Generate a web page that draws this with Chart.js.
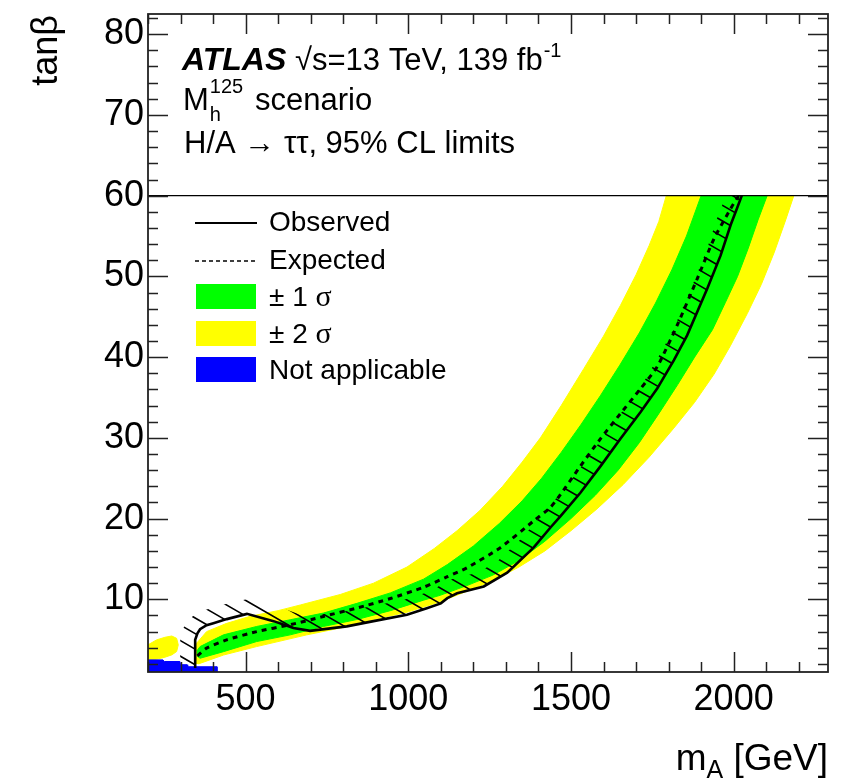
<!DOCTYPE html>
<html><head><meta charset="utf-8">
<script src="https://cdn.jsdelivr.net/npm/chart.js@4.4.0/dist/chart.umd.min.js"></script>
<style>html,body{margin:0;padding:0;background:#fff;}canvas{display:block;}</style>
</head><body>
<canvas id="c" width="852" height="782"></canvas>
<script>
// ---- data (m_A [GeV], tan beta) ----
const xTickValues = [500, 1000, 1500, 2000];
const yTickValues = [10, 20, 30, 40, 50, 60, 70, 80];

const observedLimit = [
  [345,1.5],[345,5.0],[352,5.8],[360,6.3],[380,6.8],[401,7.05],[442,7.55],[504,8.2],
  [586,7.3],[647,6.45],[698,6.1],[811,6.65],[893,7.3],[996,8.1],[1057,8.9],[1100,9.5],
  [1120,10.15],[1150,10.75],[1232,11.6],[1304,13.3],[1385,16.4],[1437,18.9],[1468,20.3],
  [1529,23.2],[1591,26.5],[1652,29.9],[1714,33.2],[1765,36.1],[1816,39.6],[1857,42.7],
  [1919,48.5],[1960,52.6],[1991,56.4],[2011,58.5],[2025,60]
];
const expectedLimit = [
  [352,3.0],[380,3.95],[442,4.98],[534,6.0],[637,6.85],[739,7.88],[842,8.92],[945,10.1],
  [1047,11.5],[1120,12.8],[1180,13.9],[1283,16.4],[1385,19.7],[1437,21.4],[1468,23.0],
  [1529,26.5],[1591,29.9],[1652,33.0],[1714,36.1],[1765,38.8],[1827,44.0],[1888,49.7],
  [1940,54.7],[1991,58.4],[2015,60]
];
// +-1 sigma band: left/upper edge (low -> high), right/lower edge (high -> low)
const band1SigmaUpper = [
  [350,3.6],[360,4.15],[432,5.6],[534,6.64],[637,7.47],[739,8.3],[842,9.5],[945,10.8],
  [1047,12.5],[1120,14.3],[1200,16.6],[1280,19.4],[1350,22.2],[1410,25.0],[1470,28.2],
  [1530,31.6],[1590,35.2],[1650,39.0],[1710,43.0],[1760,46.7],[1810,50.8],[1855,55.0],[1900,60]
];
const band1SigmaLower = [
  [2103,60],[2075,57],[2045,53.5],[2012,50],[1975,46.8],[1935,43.4],[1880,40.0],[1828,36.6],
  [1770,33.0],[1710,29.4],[1645,26.0],[1575,22.9],[1500,20.0],[1420,17.2],[1340,14.8],
  [1260,13.0],[1180,11.7],[1098,10.5],[1047,9.9],[945,8.6],[842,7.5],[739,6.64],[637,5.6],
  [534,4.77],[432,3.52],[360,2.7],[350,3.0]
];
// +-2 sigma band
const band2SigmaUpper = [
  [345,2.0],[348,4.5],[380,6.0],[440,7.0],[514,7.9],[600,8.6],[668,9.3],[791,10.6],
  [893,12.0],[996,14.0],[1080,16.3],[1150,18.5],[1220,21.0],[1290,24.0],[1350,27.0],
  [1406,30.0],[1470,34.0],[1540,38.6],[1600,42.6],[1652,46.4],[1700,50.2],[1740,53.8],
  [1770,56.8],[1793,60]
];
const band2SigmaLower = [
  [2185,60],[2160,57],[2125,53],[2085,49],[2042,45.4],[1990,41.4],[1940,37.9],[1880,34.4],
  [1816,31.2],[1740,27.6],[1660,24.2],[1580,21.2],[1500,18.5],[1420,16.0],[1340,14.0],
  [1260,12.3],[1180,11.0],[1098,9.7],[996,8.4],[893,7.5],[791,6.45],[688,5.6],
  [534,4.15],[432,3.1],[355,2.0]
];
const band2SigmaIsland = [
  [200,2.5],[200,4.36],[226,4.97],[252,5.3],[273,5.46],[288,5.17],[293,4.36],
  [288,3.53],[273,3.12],[252,2.83],[226,2.58],[200,2.5]
];
const notApplicableRegion = [
  [200,1],[200,2.5],[246,2.5],[250,2.3],[298,2.3],[300,1.9],[320,1.9],[322,1.65],
  [412,1.65],[412,1],[200,1]
];
const legendLabels = ['Observed', 'Expected', '\u00b1 1 \u03c3', '\u00b1 2 \u03c3', 'Not applicable'];

// ---- helpers ----
const toXY = arr => arr.map(p => ({x: p[0], y: p[1]}));
const FONT = "'Liberation Sans', Arial, Helvetica, sans-serif";
const SERIF = "'Liberation Serif', 'Times New Roman', serif";
Chart.defaults.font.family = FONT;
Chart.defaults.color = '#000';

const YELLOW = '#ffff00', GREEN = '#00ff00', BLUE = '#0000ff';

function polyDS(points, color, order) {
  return {data: toXY(points), showLine: true, fill: 'shape', backgroundColor: color,
    borderColor: color, borderWidth: 1, pointRadius: 0, tension: 0, order: order};
}

const decor = {
  id: 'decor',
  afterDatasetsDraw(chart) {
    // hatching on excluded side of the observed limit
    const {ctx, chartArea: ca, scales: {x, y}} = chart;
    const meta = chart.getDatasetMeta(5);
    const pts = meta.data.map(p => ({x: p.x, y: p.y}));
    const W = 15;
    const off = pts.map((p, i) => {
      const a = pts[Math.max(0, i - 1)], b = pts[Math.min(pts.length - 1, i + 1)];
      let dx = b.x - a.x, dy = b.y - a.y; const L = Math.hypot(dx, dy) || 1; dx /= L; dy /= L;
      return {x: p.x + W * dy, y: p.y - W * dx};
    });
    const y60 = y.getPixelForValue(60);
    ctx.save();
    ctx.beginPath();
    ctx.rect(ca.left, y60, ca.right - ca.left, ca.bottom - y60);
    ctx.clip();
    ctx.beginPath();
    ctx.moveTo(pts[0].x, pts[0].y);
    pts.forEach(p => ctx.lineTo(p.x, p.y));
    for (let i = off.length - 1; i >= 0; i--) ctx.lineTo(off[i].x, off[i].y);
    ctx.closePath();
    ctx.clip();
    const ang = 30 * Math.PI / 180, d = 13.5;
    const ux = Math.cos(ang), uy = Math.sin(ang), nx = -Math.sin(ang), ny = Math.cos(ang);
    ctx.strokeStyle = '#000'; ctx.lineWidth = 1.6;
    ctx.beginPath();
    for (let k = -120; k <= 120; k++) {
      const ox = ca.left + k * d * nx, oy = ca.top + k * d * ny;
      ctx.moveTo(ox - 2000 * ux, oy - 2000 * uy);
      ctx.lineTo(ox + 2000 * ux, oy + 2000 * uy);
    }
    ctx.stroke();
    ctx.restore();
  },
  afterDraw(chart) {
    const {ctx, chartArea: ca, scales: {x, y}} = chart;
    ctx.save();
    // line at tan beta = 60
    const y60 = y.getPixelForValue(60);
    ctx.strokeStyle = '#000'; ctx.lineWidth = 1.3;
    ctx.beginPath(); ctx.moveTo(ca.left, y60); ctx.lineTo(ca.right, y60); ctx.stroke();
    // ticks
    ctx.strokeStyle = '#222'; ctx.lineWidth = 1.5;
    ctx.beginPath();
    for (let v = 200; v <= 2290; v += 100) {
      const px = Math.round(x.getPixelForValue(v)) + 0.5;
      const len = xTickValues.includes(v) ? 20 : 10;
      ctx.moveTo(px, ca.bottom); ctx.lineTo(px, ca.bottom - len);
      ctx.moveTo(px, ca.top); ctx.lineTo(px, ca.top + len);
    }
    for (let v = 2; v <= 82; v += 2) {
      const py = Math.round(y.getPixelForValue(v)) + 0.5;
      const len = yTickValues.includes(v) ? 20 : 10;
      ctx.moveTo(ca.left, py); ctx.lineTo(ca.left + len, py);
      ctx.moveTo(ca.right, py); ctx.lineTo(ca.right - len, py);
    }
    ctx.stroke();
    // frame
    ctx.lineWidth = 1.8; ctx.strokeStyle = '#222';
    ctx.strokeRect(ca.left, ca.top, ca.right - ca.left, ca.bottom - ca.top);

    // header text
    ctx.fillStyle = '#000'; ctx.textBaseline = 'alphabetic'; ctx.textAlign = 'left';
    ctx.font = 'italic bold 32px ' + FONT;
    ctx.fillText('ATLAS', 182, 70);
    ctx.font = '31px ' + FONT;
    ctx.fillText('\u221as=13 TeV, 139 fb', 295, 70);
    let w = ctx.measureText('\u221as=13 TeV, 139 fb').width;
    ctx.font = '20px ' + FONT;
    ctx.fillText('-1', 295 + w + 1, 57);
    ctx.font = '31px ' + FONT;
    ctx.fillText('M', 183, 110);
    const wm = ctx.measureText('M').width;
    ctx.font = '20px ' + FONT;
    ctx.fillText('125', 183 + wm + 1, 93);
    ctx.fillText('h', 183 + wm + 1, 121);
    ctx.font = '31px ' + FONT;
    ctx.fillText('scenario', 255, 110);
    ctx.fillText('H/A \u2192 \u03c4\u03c4, 95% CL limits', 184, 153);

    // legend
    const rows = [221, 259, 296, 333, 369];
    legendLabels.forEach((t, i) => {
      const k = t.indexOf('\u03c3');
      ctx.font = '28px ' + FONT;
      if (k < 0) { ctx.fillText(t, 269, rows[i] + 10); return; }
      const pre = t.slice(0, k);
      ctx.fillText(pre, 269, rows[i] + 10);
      const wp = ctx.measureText(pre).width;
      ctx.font = '30px ' + SERIF;
      ctx.fillText('\u03c3', 269 + wp, rows[i] + 10);
    });
    ctx.strokeStyle = '#000';
    ctx.lineWidth = 2;
    ctx.beginPath(); ctx.moveTo(195, rows[0] + 2); ctx.lineTo(257, rows[0] + 2); ctx.stroke();
    ctx.lineWidth = 1.6; ctx.setLineDash([4, 3]);
    ctx.beginPath(); ctx.moveTo(195, rows[1] + 2); ctx.lineTo(257, rows[1] + 2); ctx.stroke();
    ctx.setLineDash([]);
    [[GREEN, rows[2]], [YELLOW, rows[3]], [BLUE, rows[4]]].forEach(([c, r]) => {
      ctx.fillStyle = c; ctx.fillRect(196, r - 12, 60, 25);
    });

    // axis titles
    ctx.fillStyle = '#000';
    ctx.font = '36px ' + FONT;
    ctx.save();
    ctx.translate(57, ca.top + 1);
    ctx.rotate(-Math.PI / 2);
    ctx.textAlign = 'right';
    ctx.fillText('tan\u03b2', 0, 0);
    ctx.restore();
    // m_A [GeV], right aligned
    ctx.font = '37px ' + FONT;
    const wM = ctx.measureText('m').width, wR = ctx.measureText(' [GeV]').width;
    ctx.font = '25px ' + FONT;
    const wA = ctx.measureText('A').width;
    let xs = ca.right - (wM + wA + wR);
    const base = 770;
    ctx.font = '37px ' + FONT; ctx.fillText('m', xs, base);
    ctx.font = '25px ' + FONT; ctx.fillText('A', xs + wM, base + 8);
    ctx.font = '37px ' + FONT; ctx.fillText(' [GeV]', xs + wM + wA, base);
    ctx.restore();
  }
};

new Chart(document.getElementById('c'), {
  type: 'scatter',
  data: {
    datasets: [
      polyDS(band2SigmaUpper.concat(band2SigmaLower), YELLOW, 6),
      polyDS(band2SigmaIsland, YELLOW, 5),
      polyDS(band1SigmaUpper.concat(band1SigmaLower), GREEN, 4),
      polyDS(notApplicableRegion, BLUE, 3),
      {data: toXY(expectedLimit), showLine: true, borderColor: '#000', borderWidth: 3,
        borderDash: [5, 5], pointRadius: 0, fill: false, tension: 0.2, order: 2},
      {data: toXY(observedLimit), showLine: true, borderColor: '#000', borderWidth: 2.6,
        pointRadius: 0, fill: false, tension: 0, order: 1}
    ]
  },
  options: {
    responsive: false, animation: false, devicePixelRatio: 1,
    layout: {padding: {left: 0, right: 24, top: 14, bottom: 0}},
    plugins: {legend: {display: false}, tooltip: {enabled: false}},
    scales: {
      x: {
        type: 'linear', min: 200, max: 2290,
        grid: {display: false, drawTicks: false}, border: {display: false},
        ticks: {font: {size: 36}, color: '#000', padding: 6, maxRotation: 0, autoSkip: false,
          callback: v => String(v)},
        afterBuildTicks: s => { s.ticks = xTickValues.map(v => ({value: v})); },
        afterFit: s => { s.height = 110; s.paddingLeft = 0; s.paddingRight = 0; }
      },
      y: {
        type: 'linear', min: 1, max: 82.5,
        grid: {display: false, drawTicks: false}, border: {display: false},
        ticks: {font: {size: 36}, color: '#000', padding: 4, autoSkip: false,
          callback: v => String(v)},
        afterBuildTicks: s => { s.ticks = yTickValues.map(v => ({value: v})); },
        afterFit: s => { s.width = 148; s.paddingTop = 0; s.paddingBottom = 0; }
      }
    }
  },
  plugins: [decor]
});
</script>
</body></html>
